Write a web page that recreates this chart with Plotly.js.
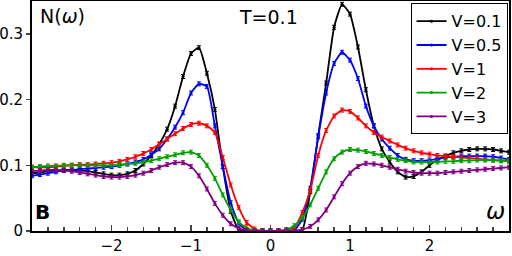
<!DOCTYPE html>
<html><head><meta charset="utf-8">
<script src="https://cdn.plot.ly/plotly-3.0.1.min.js"></script>
<style>html,body{margin:0;padding:0;background:#fff}</style>
</head><body><div id="chart" style="width:512px;height:256px"></div>
<script>
const omega = [-3.0,-2.9,-2.8,-2.7,-2.6,-2.5,-2.4,-2.3,-2.2,-2.1,-2.0,-1.9,-1.8,-1.7,-1.6,-1.5,-1.4,-1.3,-1.2,-1.1,-1.0,-0.9,-0.8,-0.7,-0.6,-0.5,-0.4,-0.3,-0.2,-0.1,0.0,0.1,0.2,0.3,0.4,0.5,0.6,0.7,0.8,0.9,1.0,1.1,1.2,1.3,1.4,1.5,1.6,1.7,1.8,1.9,2.0,2.1,2.2,2.3,2.4,2.5,2.6,2.7,2.8,2.9,3.0];
const seriesNames = ["V=0.1","V=0.5","V=1","V=2","V=3"];
const nV01 = [0.088,0.089,0.091,0.092,0.093,0.093,0.092,0.091,0.089,0.087,0.085,0.085,0.087,0.092,0.102,0.115,0.132,0.155,0.190,0.235,0.270,0.279,0.240,0.185,0.098,0.030,0.002,0,0,0,0,0,0,0,0.002,0.060,0.145,0.225,0.310,0.345,0.330,0.280,0.215,0.160,0.125,0.105,0.090,0.082,0.083,0.090,0.100,0.108,0.114,0.119,0.122,0.124,0.125,0.125,0.124,0.122,0.120];
const nV05 = [0.084,0.086,0.088,0.090,0.092,0.093,0.094,0.095,0.096,0.097,0.098,0.100,0.102,0.105,0.109,0.116,0.125,0.140,0.158,0.180,0.210,0.224,0.220,0.160,0.098,0.043,0.012,0.001,0,0,0,0,0,0.001,0.018,0.065,0.143,0.210,0.255,0.272,0.260,0.232,0.190,0.160,0.140,0.126,0.115,0.109,0.107,0.107,0.108,0.110,0.112,0.113,0.114,0.114,0.114,0.114,0.113,0.111,0.109];
const nV1 = [0.097,0.097,0.097,0.098,0.099,0.100,0.101,0.101,0.102,0.103,0.104,0.106,0.109,0.113,0.118,0.124,0.132,0.140,0.148,0.156,0.162,0.164,0.160,0.150,0.112,0.070,0.036,0.013,0.003,0,0,0,0.002,0.005,0.028,0.062,0.115,0.153,0.175,0.184,0.182,0.172,0.160,0.150,0.143,0.137,0.131,0.126,0.122,0.119,0.117,0.115,0.114,0.113,0.112,0.111,0.110,0.109,0.108,0.107,0.106];
const nV2 = [0.097,0.098,0.099,0.099,0.100,0.100,0.100,0.100,0.100,0.100,0.100,0.101,0.102,0.103,0.105,0.107,0.110,0.113,0.116,0.119,0.120,0.115,0.100,0.080,0.055,0.032,0.014,0.005,0.001,0,0,0,0.002,0.008,0.020,0.040,0.065,0.090,0.110,0.120,0.124,0.123,0.121,0.118,0.115,0.112,0.109,0.107,0.105,0.105,0.105,0.105,0.106,0.106,0.107,0.107,0.108,0.108,0.108,0.107,0.107];
const nV3 = [0.091,0.092,0.093,0.093,0.092,0.091,0.089,0.087,0.085,0.083,0.082,0.082,0.083,0.085,0.088,0.092,0.097,0.101,0.104,0.104,0.098,0.084,0.064,0.042,0.024,0.011,0.004,0.001,0,0,0,0,0,0,0.002,0.007,0.017,0.032,0.052,0.072,0.088,0.098,0.103,0.102,0.100,0.097,0.094,0.091,0.089,0.088,0.088,0.088,0.089,0.090,0.091,0.092,0.093,0.094,0.095,0.096,0.097];
const xTickVals = [-2,-1,0,1,2];
const xTickText = ["\u22122","\u22121","0","1","2"];
const yTickVals = [0,0.1,0.2,0.3];
const yTickText = ["0","0.1","0.2","0.3"];
const colors = ["#000000","#0000ff","#ff0000","#00a000","#800080"];

const allSeries = [nV01,nV05,nV1,nV2,nV3];
const traces = allSeries.map((ys,i)=>({
  x: omega, y: ys, name: seriesNames[i], type:'scatter', mode:'lines+markers',
  line:{color:colors[i], width:1.8, shape:'spline', smoothing:0.5},
  marker:{color:colors[i], size:3},
  error_y:{type:'constant', value:0.003, color:colors[i], thickness:1, width:2},
  showlegend:true
}));

const font = "DejaVu Sans, sans-serif";
const layout = {
  width:512, height:256,
  margin:{l:32,r:3,t:1,b:25},
  paper_bgcolor:'#fff', plot_bgcolor:'#fff',
  font:{family:font, size:16, color:'#000'},
  showlegend:true,
  legend:{x:0.997,y:0.99,xanchor:'right',yanchor:'top',bordercolor:'#000',borderwidth:1,
    bgcolor:'#fff',font:{family:font,size:16},itemwidth:30,tracegroupgap:0},
  xaxis:{range:[-3,3],tickvals:xTickVals,ticktext:xTickText,ticks:'inside',ticklen:6,tickwidth:1.5,
    showline:true,linewidth:2,linecolor:'#000',mirror:true,showgrid:false,zeroline:false,
    tickfont:{family:font,size:15},
    minor:{dtick:0.2,tick0:0,ticks:'inside',ticklen:4,tickwidth:1.5,showgrid:false}},
  yaxis:{range:[0,0.35],tickvals:yTickVals,ticktext:yTickText,ticks:'outside',ticklen:4,tickwidth:1.5,
    showline:true,linewidth:2,linecolor:'#000',mirror:true,showgrid:false,zeroline:false,
    tickfont:{family:font,size:15}},
  annotations:[
    {xref:'paper',yref:'paper',x:0.013,y:0.99,xanchor:'left',yanchor:'top',showarrow:false,
     text:'N(<i>ω</i>)',font:{family:font,size:19}},
    {xref:'paper',yref:'paper',x:0.43,y:0.985,xanchor:'left',yanchor:'top',showarrow:false,
     text:'T=0.1',font:{family:font,size:19}},
    {xref:'paper',yref:'paper',x:0.003,y:0.02,xanchor:'left',yanchor:'bottom',showarrow:false,
     text:'<b>B</b>',font:{family:font,size:20}},
    {xref:'paper',yref:'paper',x:0.995,y:0.02,xanchor:'right',yanchor:'bottom',showarrow:false,
     text:'<i>ω</i>',font:{family:font,size:23}}
  ]
};
Plotly.newPlot('chart', traces, layout, {staticPlot:true, displayModeBar:false});
</script></body></html>
